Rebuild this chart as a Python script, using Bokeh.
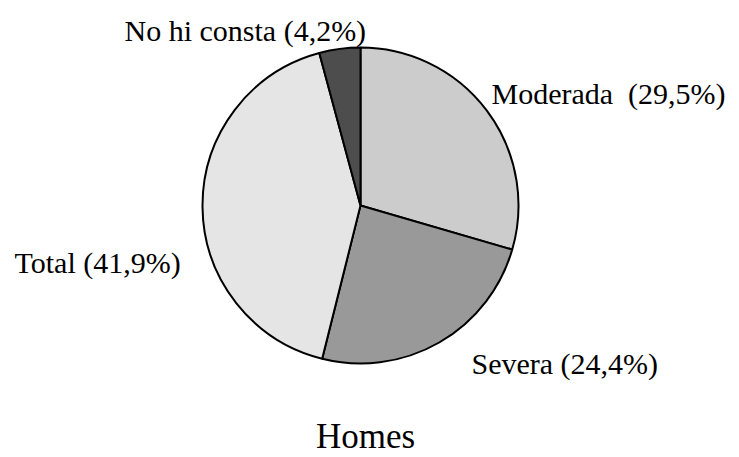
import numpy as np
from bokeh.plotting import figure
from bokeh.models import ColumnDataSource, Range1d, Label
from bokeh.core.properties import value
from bokeh.embed import file_html
from bokeh.resources import INLINE

# Data
categories = ["Moderada", "Severa", "Total", "No hi consta"]
percentages = [29.5, 24.4, 41.9, 4.2]
colors = ["#cccccc", "#999999", "#e5e5e5", "#4d4d4d"]
title_text = "Homes"

# label layout (pixel-mapped data space)
label_x = [491, 471, 14, 124]
label_y = [364, 94, 195, 427]

W, H = 739, 457
p = figure(width=W, height=H, output_backend="svg", toolbar_location=None,
           x_range=Range1d(0, W), y_range=Range1d(0, H),
           x_axis_location=None, y_axis_location=None,
           min_border=0, outline_line_color=None, background_fill_color="white",
           border_fill_color="white")
p.grid.visible = False

vals = np.array(percentages)
fr = vals / vals.sum()
cum = np.concatenate([[0], np.cumsum(fr)])
start = np.pi / 2 - cum[:-1] * 2 * np.pi
end = np.pi / 2 - cum[1:] * 2 * np.pi

src = ColumnDataSource(dict(start=start, end=end, color=colors))
p.wedge(x=360, y=252, radius=158, start_angle="start", end_angle="end",
        direction="clock", fill_color="color", line_color="black", line_width=2,
        source=src)

def fmt(v):
    return f"{v:.1f}".replace(".", ",") + "%"

texts = []
for c, v in zip(categories, percentages):
    sep = "\u00a0 " if c == "Moderada" else " "
    texts.append(f"{c}{sep}({fmt(v)})")

lsrc = ColumnDataSource(dict(x=label_x, y=label_y, t=texts))
p.text(x="x", y="y", text="t", source=lsrc, text_font=value("Liberation Serif"),
       text_font_size="30px", text_color="black", text_baseline="alphabetic",
       text_align="left")

p.add_layout(Label(x=365, y=21, text=title_text, text_font="Liberation Serif",
                   text_font_size="35px", text_color="black", text_align="center",
                   text_baseline="alphabetic"))

open("out.html", "w").write(file_html(p, INLINE))
